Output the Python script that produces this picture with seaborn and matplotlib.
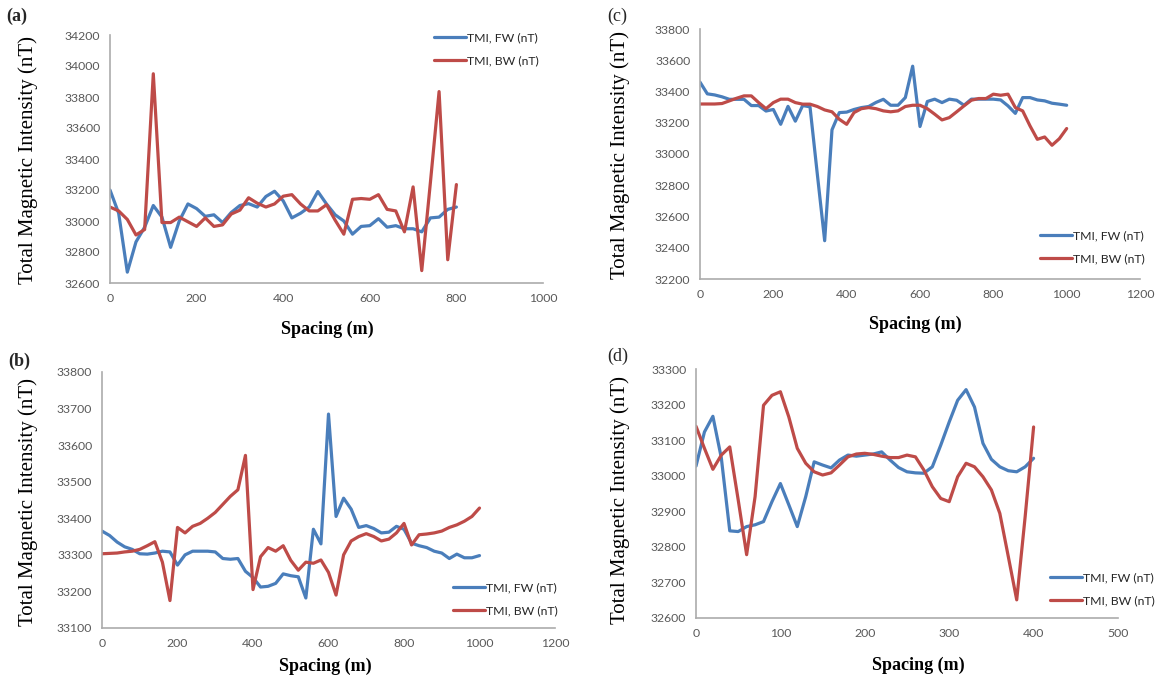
import numpy as np
import pandas as pd
import matplotlib
matplotlib.use("Agg")
import matplotlib.pyplot as plt
import seaborn as sns
from matplotlib.lines import Line2D

# ---------------- data ----------------
a_x = list(range(0, 801, 20))
a_fw = [33200, 33050, 32670, 32865, 32960, 33100, 33025, 32830, 33000, 33110,
        33080, 33030, 33040, 32990, 33055, 33100, 33112, 33090, 33158, 33192,
        33130, 33020, 33050, 33090, 33190, 33110, 33040, 33000, 32915, 32965,
        32970, 33015, 32960, 32970, 32950, 32950, 32930, 33020, 33025, 33075,
        33090]
a_bw = [33090, 33065, 33010, 32910, 32945, 33950, 32990, 32990, 33025, 32995,
        32965, 33020, 32965, 32975, 33045, 33070, 33150, 33115, 33090, 33110,
        33160, 33170, 33110, 33065, 33065, 33105, 33005, 32915, 33140, 33145,
        33140, 33170, 33075, 33065, 32930, 33220, 32680, 33250, 33835, 32750,
        33235]

b_x = list(range(0, 1001, 20))
b_fw = [33365, 33353, 33335, 33322, 33315, 33303, 33302, 33305, 33310, 33308,
        33272, 33300, 33310, 33310, 33310, 33308, 33290, 33288, 33290, 33255,
        33238, 33212, 33214, 33222, 33248, 33243, 33240, 33182, 33370, 33330,
        33685, 33405, 33455, 33425, 33375, 33380, 33372, 33360, 33362, 33378,
        33370, 33332, 33325, 33320, 33310, 33305, 33290, 33302, 33292, 33292,
        33298]
b_bw = [33303, 33304, 33305, 33308, 33310, 33315, 33325, 33336, 33280, 33175,
        33375, 33360, 33378, 33386, 33400, 33416, 33438, 33460, 33478, 33572,
        33205, 33295, 33320, 33310, 33325, 33285, 33258, 33280, 33277, 33286,
        33252, 33190, 33300, 33338, 33350, 33358, 33350, 33338, 33343, 33360,
        33386, 33327, 33355, 33357, 33360, 33365, 33375, 33382, 33392, 33405,
        33428]

c_x = list(range(0, 1001, 20))
c_fw = [33460, 33385, 33378, 33366, 33350, 33350, 33350, 33310, 33310, 33275,
        33285, 33190, 33305, 33210, 33310, 33302, 32870, 32445, 33155, 33265,
        33268, 33285, 33297, 33304, 33330, 33350, 33312, 33312, 33361, 33562,
        33176, 33336, 33351, 33329, 33351, 33344, 33312, 33351, 33351, 33351,
        33351, 33346, 33308, 33260, 33361, 33361, 33346, 33340, 33325, 33319,
        33312]
c_bw = [33320, 33320, 33320, 33323, 33340, 33357, 33372, 33372, 33329, 33290,
        33329, 33351, 33351, 33329, 33319, 33319, 33304, 33282, 33270, 33222,
        33190, 33265, 33290, 33297, 33290, 33276, 33270, 33276, 33304, 33312,
        33312, 33290, 33255, 33218, 33233, 33270, 33308, 33344, 33355, 33355,
        33383, 33376, 33383, 33297, 33276, 33180, 33094, 33109, 33056, 33098,
        33163]

d_x = list(range(0, 401, 10))
d_fw = [33027, 33123, 33167, 33050, 32845, 32843, 32857, 32862, 32871, 32927,
        32978, 32918, 32857, 32941, 33039, 33030, 33022, 33044, 33058, 33055,
        33058, 33061, 33067, 33044, 33023, 33011, 33008, 33007, 33025, 33086,
        33151, 33212, 33242, 33193, 33091, 33046, 33025, 33014, 33011, 33025,
        33049]
d_bw = [33139, 33077, 33018, 33058, 33081, 32932, 32778, 32941, 33198, 33226,
        33236, 33165, 33077, 33035, 33011, 33002, 33008, 33030, 33053, 33061,
        33063, 33060, 33055, 33051, 33051, 33058, 33053, 33016, 32969, 32936,
        32927, 32997, 33035, 33025, 32997, 32960, 32894, 32773, 32651, 32885,
        33137]

series_names = ["TMI, FW (nT)", "TMI, BW (nT)"]
panel_labels = ["(a)", "(b)", "(c)", "(d)"]
xlabel = "Spacing (m)"
ylabel = "Total Magnetic Intensity (nT)"

# ---------------- style ----------------
sns.set_style("white")
plt.rcParams['font.family'] = ['Lato', 'DejaVu Sans']
BLUE = "#4A7EBB"
RED = "#BE4B48"
palette = {series_names[0]: BLUE, series_names[1]: RED}
SPINE = "#ababab"
TICKC = "#595959"
SERIF = "Liberation Serif"

W, H = 1158, 677
fig = plt.figure(figsize=(W / 100, H / 100), dpi=100)


def add_ax(l, r, t, b):
    return fig.add_axes([l / W, 1 - b / H, (r - l) / W, (b - t) / H])


def draw(ax, x, fw, bw, xlim, xstep, ylim, ystep, leg_xy, ylab_xy, xlab_xy,
         plab, plab_xy, plab_bold):
    df = pd.DataFrame({
        "Spacing": list(x) + list(x),
        "TMI": list(fw) + list(bw),
        "Series": [series_names[0]] * len(x) + [series_names[1]] * len(x),
    })
    sns.lineplot(data=df, x="Spacing", y="TMI", hue="Series", palette=palette,
                 linewidth=2.3, ax=ax, legend=False, estimator=None)
    ax.set_xlim(*xlim)
    ax.set_ylim(*ylim)
    ax.set_xticks(np.arange(xlim[0], xlim[1] + 1, xstep))
    ax.set_yticks(np.arange(ylim[0], ylim[1] + 1, ystep))
    for s in ["top", "right"]:
        ax.spines[s].set_visible(False)
    for s in ["left", "bottom"]:
        ax.spines[s].set_color(SPINE)
        ax.spines[s].set_linewidth(1.2)
    ax.tick_params(axis="both", direction="out", length=4, width=1,
                   color=SPINE, labelcolor=TICKC, labelsize=8.8, pad=3)
    ax.set_xlabel(xlabel, fontfamily=SERIF, fontweight="bold", fontsize=13,
                  color="black")
    ax.set_ylabel(ylabel, fontfamily=SERIF, fontsize=15, color="black")
    ax.yaxis.set_label_coords(ylab_xy[0] / W, 1 - ylab_xy[1] / H,
                              transform=fig.transFigure)
    ax.xaxis.set_label_coords(xlab_xy[0] / W, 1 - xlab_xy[1] / H,
                              transform=fig.transFigure)
    ax.yaxis.label.set_verticalalignment("center")
    ax.xaxis.label.set_verticalalignment("center")
    handles = [Line2D([], [], color=BLUE, lw=2.3),
               Line2D([], [], color=RED, lw=2.3)]
    ax.legend(handles, series_names, loc="upper left",
              bbox_to_anchor=(leg_xy[0] / W, 1 - leg_xy[1] / H),
              bbox_transform=fig.transFigure, frameon=False, fontsize=8.8,
              handlelength=2.6, handletextpad=0.1, labelspacing=1.0,
              borderpad=0, borderaxespad=0, labelcolor="#262626")
    fig.text(plab_xy[0] / W, 1 - plab_xy[1] / H, plab, fontfamily=SERIF,
             fontsize=13, fontweight="bold" if plab_bold else "normal",
             ha="left", va="center")


ax_a = add_ax(110, 543, 35, 283)
draw(ax_a, a_x, a_fw, a_bw, (0, 1000), 200, (32600, 34200), 200,
     (434, 32), (28, 160), (327, 329), panel_labels[0], (6, 16), True)

ax_b = add_ax(102, 555, 372, 628)
draw(ax_b, b_x, b_fw, b_bw, (0, 1200), 200, (33100, 33800), 100,
     (453, 582), (28, 502), (325, 666), panel_labels[1], (8, 361), True)

ax_c = add_ax(700, 1140, 29, 279)
draw(ax_c, c_x, c_fw, c_bw, (0, 1200), 200, (32200, 33800), 200,
     (1040, 230), (620, 155), (915, 324), panel_labels[2], (607, 16), False)

ax_d = add_ax(696, 1118, 369, 618)
draw(ax_d, d_x, d_fw, d_bw, (0, 500), 100, (32600, 33300), 100,
     (1050, 572), (620, 500), (918, 665), panel_labels[3], (607, 356), False)

fig.savefig("out.png", dpi=100, facecolor="white")
